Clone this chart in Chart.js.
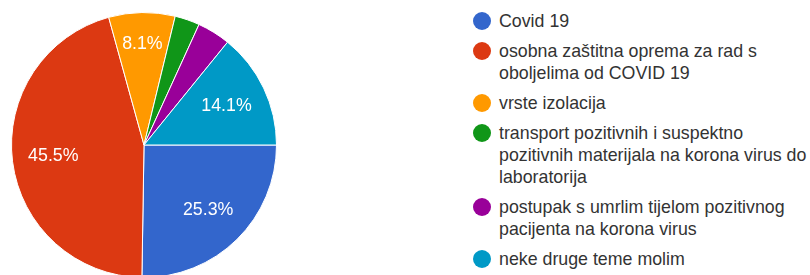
<!DOCTYPE html>
<html>
<head>
<meta charset="utf-8">
<script src="https://cdn.jsdelivr.net/npm/chart.js@4.4.0/dist/chart.umd.min.js"></script>
<style>
    html, body { margin: 0; padding: 0; background: #fff; overflow: hidden; }
    body { width: 810px; height: 275px; position: relative; font-family: "Liberation Sans", Arial, sans-serif; }
    #pieBox { position: absolute; left: 0; top: 0; width: 288px; height: 290px; }
    #legend { position: absolute; left: 473px; top: 10px; margin: 0; padding: 0; list-style: none; }
    #legend li { display: flex; align-items: flex-start; margin-bottom: 8px; }
    #legend .dot { width: 18px; height: 18px; border-radius: 50%; margin-top: 2px; margin-right: 8px; flex: none; }
    #legend .txt { font-size: 17.8px; line-height: 22px; color: #333; white-space: nowrap; }
</style>
</head>
<body>
<div id="pieBox"><canvas id="pieChart"></canvas></div>
<ul id="legend"></ul>
<script>
// answer categories (each entry = lines of the legend text)
const categories = [
    ['Covid 19'],
    ['osobna zaštitna oprema za rad s', 'oboljelima od COVID 19'],
    ['vrste izolacija'],
    ['transport pozitivnih i suspektno', 'pozitivnih materijala na korona virus do', 'laboratorija'],
    ['postupak s umrlim tijelom pozitivnog', 'pacijenta na korona virus'],
    ['neke druge teme molim']
];
// number of answers per category
const answers = [25, 45, 8, 3, 4, 14];
const sliceColors = ['#3366cc', '#dc3912', '#ff9900', '#109618', '#990099', '#0099c6'];

const total = answers.reduce((a, b) => a + b, 0);

// white percentage text inside the bigger slices
const percentLabels = {
    id: 'percentLabels',
    afterDatasetsDraw(chart) {
        const ctx = chart.ctx;
        const meta = chart.getDatasetMeta(0);
        ctx.save();
        ctx.fillStyle = '#ffffff';
        ctx.font = '17.8px "Liberation Sans", Arial, sans-serif';
        ctx.textAlign = 'center';
        ctx.textBaseline = 'middle';
        meta.data.forEach((arc, i) => {
            const pct = answers[i] / total * 100;
            if (pct < 5) return;
            const p = arc.getProps(['x', 'y', 'startAngle', 'endAngle', 'outerRadius'], true);
            const mid = (p.startAngle + p.endAngle) / 2;
            // small slices get their label pushed a bit further out
            const r = p.outerRadius * (pct < 10 ? 0.76 : 0.69);
            ctx.fillText(pct.toFixed(1) + '%', p.x + Math.cos(mid) * r, p.y + Math.sin(mid) * r);
        });
        ctx.restore();
    }
};

const ctx = document.getElementById('pieChart').getContext('2d');
new Chart(ctx, {
    type: 'pie',
    data: {
        labels: categories.map(c => c.join(' ')),
        datasets: [{
            data: answers,
            backgroundColor: sliceColors,
            borderColor: '#ffffff',
            borderWidth: 1
        }]
    },
    options: {
        responsive: true,
        maintainAspectRatio: false,
        animation: false,
        rotation: 90,
        layout: { padding: { top: 12, bottom: 12, left: 11, right: 11 } },
        plugins: {
            legend: { display: false },
            tooltip: { enabled: false }
        }
    },
    plugins: [percentLabels]
});

// legend on the right, built from the same arrays
const legendEl = document.getElementById('legend');
categories.forEach((lines, i) => {
    const li = document.createElement('li');
    const dot = document.createElement('span');
    dot.className = 'dot';
    dot.style.background = sliceColors[i];
    const txt = document.createElement('span');
    txt.className = 'txt';
    txt.innerHTML = lines.map(l => l.replace(/&/g, '&amp;').replace(/</g, '&lt;')).join('<br>');
    li.appendChild(dot);
    li.appendChild(txt);
    legendEl.appendChild(li);
});
</script>
</body>
</html>
